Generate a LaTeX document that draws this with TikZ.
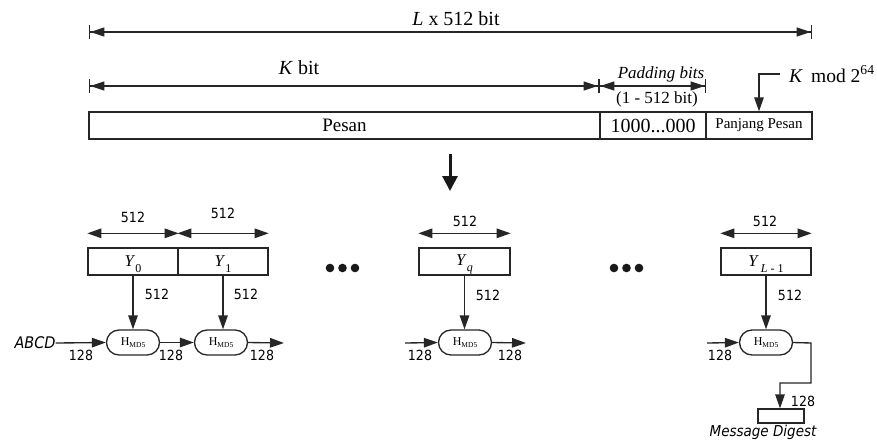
\documentclass[tikz,border=0pt]{standalone}
\usepackage{fontspec}
\setmainfont{Liberation Serif}
\newfontfamily\dvs[FakeStretch=0.9]{DejaVu Sans}
\usetikzlibrary{arrows.meta,shapes.misc}
\begin{document}
\begin{tikzpicture}[x=1pt,y=-1pt,
  ln/.style={line width=1.35pt, draw=black!85},
  tri/.style={ln, -{Triangle[length=14pt,width=9.5pt]}},
  dbl/.style={ln, arrows={Triangle[length=14pt,width=9.5pt]}-{Triangle[length=14pt,width=9.5pt]}},
  dim/.style={ln, arrows={Bar[width=14pt]Triangle[length=14pt,width=9pt]}-{Triangle[length=14pt,width=9pt]Bar[width=14pt]}},
  box/.style={ln, rectangle, inner sep=0pt, fill=white},
  hbox/.style={ln, rounded rectangle, minimum width=53pt, minimum height=25pt, inner sep=0pt},
  ybox/.style={box, minimum width=90pt, minimum height=27pt, font=\fontsize{16.5}{18}\selectfont},
  tser/.style={inner sep=0pt, font=\fontsize{20}{22}\selectfont},
  tsmall/.style={inner sep=0pt, font=\fontsize{17}{19}\selectfont},
  lab/.style={inner sep=0pt, font=\dvs\fontsize{14}{15}\selectfont},
  ilab/.style={inner sep=0pt, font=\dvs\itshape\fontsize{15}{16}\selectfont},
]
\useasboundingbox (0,0) rectangle (877,445);

% ---------- top part ----------
\node[tser] (ltxt) at (456,19) {\textit{L} x 512 bit};
\coordinate (l1) at (89,32);
\coordinate (l2) at (812,32);
\draw[dim] (l1) -- (l2);

\node[tser] (ktxt) at (299,68) {\textit{K} bit};
\coordinate (k1) at (89,86);
\coordinate (k2) at (599,86);
\draw[dim] (k1) -- (k2);

\node[tsmall] (padtxt) at (661,74) {\textit{Padding bits}};
\node[tsmall] (rngtxt) at (657,99) {(1 - 512 bit)};
\coordinate (p1) at (599,86);
\coordinate (p2) at (706,86);
\draw[dim] (p1) -- (p2);

\node[box, minimum width=511pt, minimum height=27pt, font=\fontsize{19}{21}\selectfont] (pesan) at (344.5,125.5) {Pesan};
\node[box, minimum width=106pt, minimum height=27pt, font=\fontsize{20}{22}\selectfont] (pad) at (653,125.5) {1000...000};
\node[box, minimum width=106pt, minimum height=27pt, font=\fontsize{15}{17}\selectfont] (panj) at (759,125.5) {Panjang Pesan};

\node[inner sep=0pt, font=\fontsize{19.5}{22}\selectfont, anchor=west] (kmod) at (789,74) {\textit{K}\, mod 2\textsuperscript{64}};
\draw[tri] ([xshift=-9pt]kmod.west) -| (panj.north);

% big arrow
\coordinate (ba) at (450,154);
\coordinate (bb) at (450,191);
\draw[line width=3pt, draw=black!90, -{Triangle[length=15pt,width=15pt]}] (ba) -- (bb);

% ---------- lower part ----------
\node[ybox] (y0) at (133,261.5) {\rule{0pt}{16.4pt}\textit{Y}\raisebox{-6pt}{\fontsize{12}{12}\selectfont 0}};
\node[ybox] (y1) at (223,261.5) {\rule{0pt}{16.4pt}\textit{Y}\raisebox{-6pt}{\fontsize{12}{12}\selectfont 1}};
\node[ybox, minimum width=91pt] (yq) at (464.5,261.5) {\rule{0pt}{16.4pt}\textit{Y}\raisebox{-6pt}{\fontsize{12}{12}\selectfont\textit{q}}};
\node[ybox] (yl) at (766,261.5) {\rule{0pt}{16.4pt}\textit{Y}\raisebox{-6pt}{\fontsize{12}{12}\selectfont\,\textit{L} - 1}};

\draw[dbl] ([yshift=14pt]y0.north west) -- ([yshift=14pt]y0.north east);
\draw[dbl] ([yshift=14pt]y1.north west) -- ([yshift=14pt]y1.north east);
\draw[dbl] ([yshift=14pt]yq.north west) -- ([yshift=14pt]yq.north east);
\draw[dbl] ([yshift=14pt]yl.north west) -- ([yshift=14pt]yl.north east);

\node[lab] (d0) at (133,217) {512};
\node[lab] (d1) at (223,213) {512};
\node[lab] (dq) at (465,221) {512};
\node[lab] (dl) at (765,221) {512};

\newcommand{\hmd}{{\fontsize{12}{12}\selectfont H}\raisebox{-1.5pt}{\fontsize{7.5}{8}\selectfont MD5}}
\node[hbox] (h0) at (133,342.5) {\hmd};
\node[hbox] (h1) at (221,342.5) {\hmd};
\node[hbox] (hq) at (465,342.5) {\hmd};
\node[hbox] (hl) at (766,342.5) {\hmd};

\draw[tri] (y0.south) -- (h0.north);
\draw[tri] (y1.south) -- (y1.south |- h1.north);
\draw[tri] (yq.south) -- (yq.south |- hq.north);
\draw[tri] (yl.south) -- (yl.south |- hl.north);

\node[lab] (s0) at (157,294) {512};
\node[lab] (s1) at (246,294) {512};
\node[lab] (sq) at (488,295) {512};
\node[lab] (sl) at (790,295) {512};

\node[ilab, font=\dvs\itshape\fontsize{16}{17}\selectfont] (abcd) at (35,343) {ABCD};
\draw[tri] (abcd.east) -- (h0.west);
\draw[tri] (h0.east) -- (h1.west);
\coordinate (o1) at (284,343);
\draw[tri] (h1.east) -- (o1);
\coordinate (iq) at (405,343);
\draw[tri] (iq) -- (hq.west);
\coordinate (oq) at (526,343);
\draw[tri] (hq.east) -- (oq);
\coordinate (il) at (707,343);
\draw[tri] (il) -- (hl.west);

\node[lab] (n1) at (81,355) {128};
\node[lab] (n2) at (171,355) {128};
\node[lab] (n3) at (262,355) {128};
\node[lab] (n4) at (420,355) {128};
\node[lab] (n5) at (510,355) {128};
\node[lab] (n6) at (720,355) {128};

\node[box, minimum width=46pt, minimum height=14pt] (md) at (781,416) {};
\coordinate (c1) at (811,343);
\coordinate (c2) at (811,383);
\coordinate (c3) at (780,383);
\draw[tri] (hl.east) -- (c1) -- (c2) -- (c3) -- (c3 |- md.north);
\node[lab] (n7) at (803,401) {128};
\node[ilab] (mdtxt) at (763,432) {Message Digest};

% ellipsis dots
\foreach \cx in {330,342.5,355} \fill[black!90] (\cx,268) circle (4.3pt);
\foreach \cx in {614,626.5,639} \fill[black!90] (\cx,268) circle (4.3pt);
\end{tikzpicture}
\end{document}
